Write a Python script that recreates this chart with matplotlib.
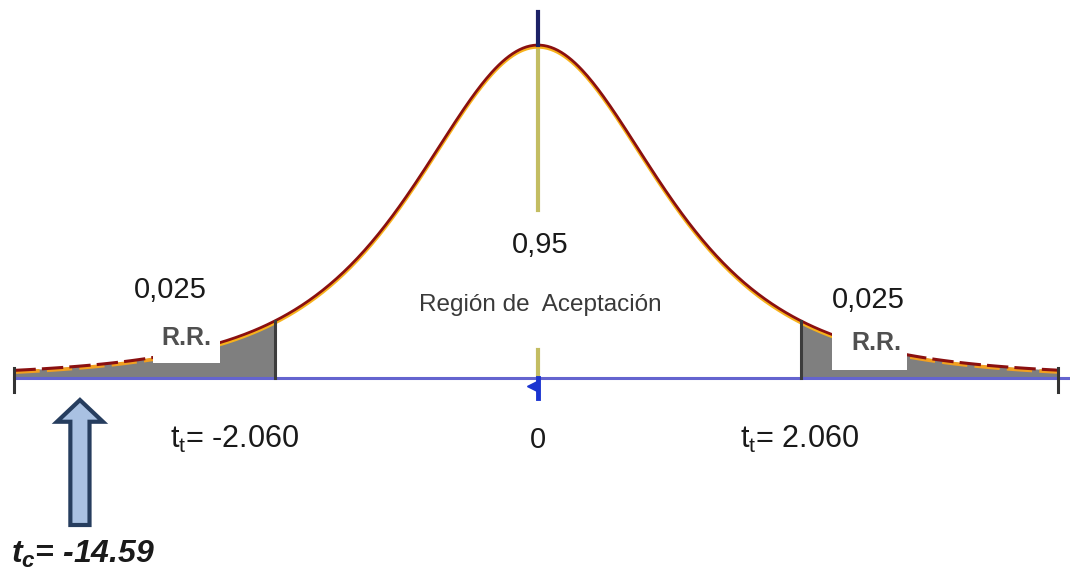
import math
import numpy as np
import matplotlib
matplotlib.use("Agg")
import matplotlib.pyplot as plt
from matplotlib.patches import Rectangle, FancyArrow

# ---- datos del gráfico ----
t_crit = 2.060          # valor t de tabla
t_calc = -14.59         # valor t calculado
area_tail = 0.025       # área de cada cola (R.R.)
area_center = 0.95      # área de aceptación
shape_df = 3            # g.l. usados solo para la forma dibujada de la campana
t_left, t_right = -4.1, 4.07   # extremos del eje dibujado

plt.rcParams['font.family'] = ['Liberation Sans', 'DejaVu Sans']
plt.rcParams['mathtext.fontset'] = 'custom'
plt.rcParams['mathtext.rm'] = 'Liberation Sans'
plt.rcParams['mathtext.it'] = 'Liberation Sans:italic:bold'
plt.rcParams['mathtext.bf'] = 'Liberation Sans:bold'


def t_pdf(t, nu):
    c = math.gamma((nu + 1) / 2) / (math.sqrt(nu * math.pi) * math.gamma(nu / 2))
    return c * (1 + t ** 2 / nu) ** (-(nu + 1) / 2)


def fmt(v, nd):
    return f"{v:.{nd}f}".replace('.', ',')


fig = plt.figure(figsize=(10.7, 5.76), dpi=100)
ax = fig.add_axes([0, 0, 1, 1])
ax.set_xlim(-4.213, 4.166)
ax.set_ylim(-0.2186, 0.4173)
ax.axis('off')

t = np.linspace(t_left, t_right, 600)
y = t_pdf(t, shape_df)
peak = t_pdf(0.0, shape_df)

# colas sombreadas (R.R.)
lt = t <= -t_crit
rt = t >= t_crit
ax.fill_between(t[lt], 0, y[lt], color='#7f7f7f', lw=0, zorder=1)
ax.fill_between(t[rt], 0, y[rt], color='#7f7f7f', lw=0, zorder=1)

# curva: borde amarillo + trazo rojo oscuro
mid = (t > -t_crit - 0.45) & (t < t_crit + 0.6)
ax.plot(t[mid], y[mid] - 0.002, color='#f7b21c', lw=2.6, zorder=3)
ax.plot(t[mid], y[mid], color='#8a1010', lw=2.0, zorder=4)
for m in (t <= -t_crit - 0.45, t >= t_crit + 0.6):
    ax.plot(t[m], y[m] - 0.002, color='#f2a020', lw=2.6, zorder=3,
            dashes=(7, 2))
    ax.plot(t[m], y[m], color='#8a1010', lw=2.2, zorder=4, dashes=(7, 2))

# cajas blancas de etiqueta R.R.
ax.add_patch(Rectangle((-3.015, 0.0166), 0.525, 0.05, color='white',
                       zorder=5, lw=0))
ax.add_patch(Rectangle((2.302, 0.0088), 0.588, 0.066, color='white',
                       zorder=5, lw=0))

# eje horizontal
ax.plot([t_left, 4.25], [0, 0], color='#6464cf', lw=2.2, zorder=6)
for xe in (t_left, t_right):
    ax.plot([xe, xe], [0.011, -0.016], color='#333333', lw=2.2, zorder=7)
# límites de la región de aceptación
for xc in (-t_crit, t_crit):
    ax.plot([xc, xc], [0, t_pdf(xc, shape_df)], color='#3c3c3c', lw=2.2,
            zorder=7)

# línea central
ax.plot([0, 0], [0.1855, peak], color='#c3bd62', lw=3.0, zorder=2)
ax.plot([0, 0], [0, 0.031], color='#c3bd62', lw=3.0, zorder=2)
ax.plot([0, 0], [peak, 0.404], color='#1c2266', lw=3.0, zorder=5)
ax.plot([0, 0], [0, -0.022], color='#1a34d0', lw=3.5, zorder=7)
ax.plot([-0.05], [-0.009], marker='<', color='#1a34d0', ms=7, zorder=7)

# textos
big = 21
ax.text(-2.88, 0.097, fmt(area_tail, 3), fontsize=big, ha='center',
        va='center', color='#1a1a1a', zorder=8)
ax.text(2.584, 0.086, fmt(area_tail, 3), fontsize=big, ha='center',
        va='center', color='#1a1a1a', zorder=8)
ax.text(-2.756, 0.044, 'R.R.', fontsize=18, fontweight='bold', ha='center',
        va='center', color='#505050', zorder=8)
ax.text(2.647, 0.0386, 'R.R.', fontsize=18, fontweight='bold', ha='center',
        va='center', color='#505050', zorder=8)
ax.text(0.016, 0.147, fmt(area_center, 2), fontsize=big, ha='center',
        va='center', color='#1a1a1a', zorder=8)
ax.text(0.016, 0.081, 'Región de  Aceptación', fontsize=17.5, ha='center',
        va='center', color='#3a3a3a', zorder=8)

ax.text(-2.373, -0.068, r'$\mathrm{t}_\mathrm{t}$= ' + f'{-t_crit:.3f}',
        fontsize=22, ha='center', va='center', color='#1a1a1a')
ax.text(0, -0.068, '0', fontsize=big, ha='center', va='center',
        color='#1a1a1a')
ax.text(2.05, -0.068, r'$\mathrm{t}_\mathrm{t}$= ' + f'{t_crit:.3f}',
        fontsize=22, ha='center', va='center', color='#1a1a1a')

# flecha hacia t calculado (fuera de escala)
ax.add_patch(FancyArrow(-3.587, -0.1623, 0, 0.138, width=0.15,
                        head_width=0.36, head_length=0.024,
                        length_includes_head=True, fc='#a9c1e2',
                        ec='#263d5e', lw=3, zorder=8))
ax.text(-4.13, -0.195, r'$t_c$= ' + f'{t_calc:.2f}', fontsize=23,
        fontweight='bold', style='italic', ha='left', va='center',
        color='#1a1a1a')

fig.savefig('out.png', dpi=100)
